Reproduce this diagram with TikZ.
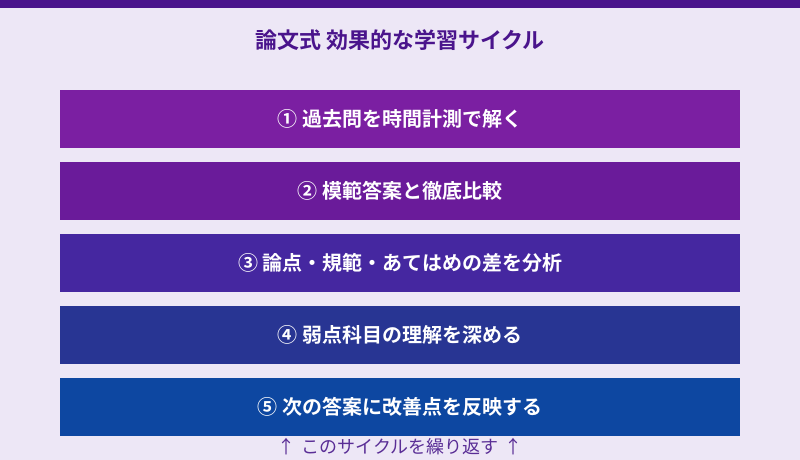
\documentclass[tikz,border=0pt]{standalone}
\usepackage{fontspec}
\newfontfamily\jpbold{Noto Sans CJK JP Bold}
\newfontfamily\jp{Noto Sans CJK JP}
\definecolor{bg}{HTML}{EDE7F6}
\definecolor{topbar}{HTML}{4A148C}
\definecolor{cA}{HTML}{7B1FA2}
\definecolor{cB}{HTML}{6A1B9A}
\definecolor{cC}{HTML}{4527A0}
\definecolor{cD}{HTML}{283593}
\definecolor{cE}{HTML}{0D47A1}
\definecolor{note}{HTML}{5A2E96}
\begin{document}
\begin{tikzpicture}[x=1pt,y=-1pt,
  stepbox/.style={minimum width=680pt,minimum height=58pt,inner sep=0pt,anchor=north west,text=white,font=\jpbold\fontsize{20}{24}\selectfont}]
\useasboundingbox (0,0) rectangle (800,460);
\fill[bg] (0,0) rectangle (800,460);
\fill[topbar] (0,0) rectangle (800,8);
\node[text=topbar,font=\jpbold\fontsize{22}{26}\selectfont] (title) at (400,40) {論文式 効果的な学習サイクル};
\node[stepbox,fill=cA] (s1) at (60,90) {① 過去問を時間計測で解く};
\node[stepbox,fill=cB] (s2) at (60,162) {② 模範答案と徹底比較};
\node[stepbox,fill=cC] (s3) at (60,234) {③ 論点・規範・あてはめの差を分析};
\node[stepbox,fill=cD] (s4) at (60,306) {④ 弱点科目の理解を深める};
\node[stepbox,fill=cE] (s5) at (60,378) {⑤ 次の答案に改善点を反映する};
\node[text=note,font=\jp\fontsize{18}{21}\selectfont] (loop) at (400,447) {↑\hspace{0.35em}このサイクルを繰り返す\hspace{0.35em}↑};
\end{tikzpicture}
\end{document}
